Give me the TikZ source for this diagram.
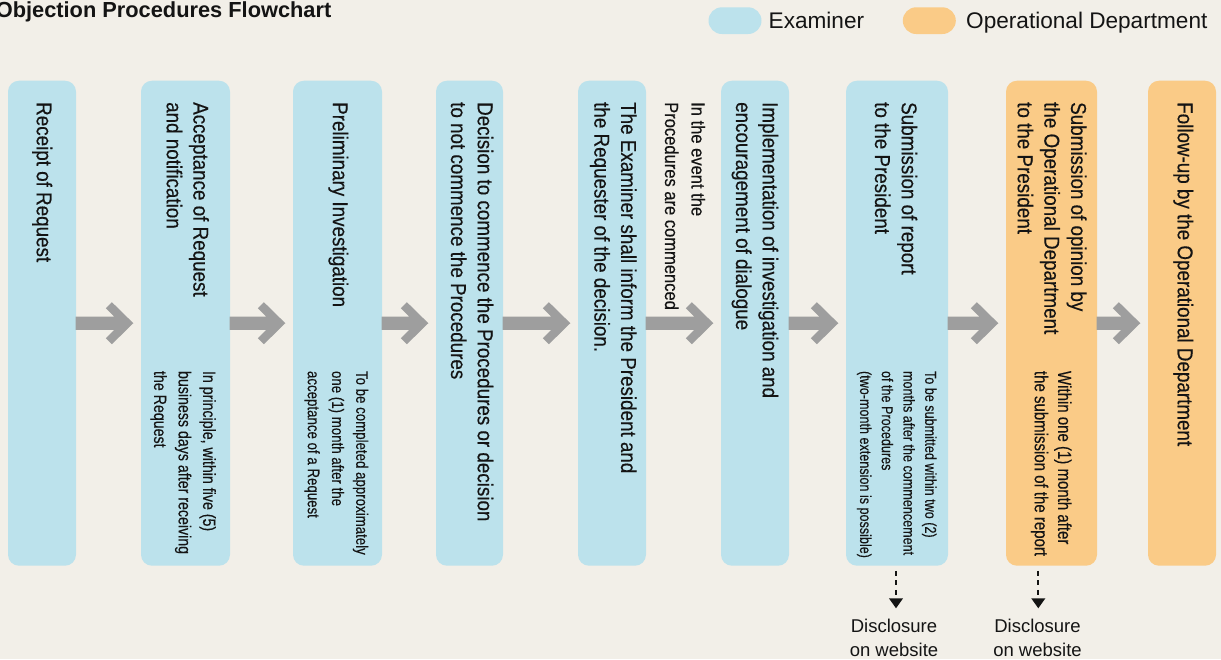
\documentclass[tikz,border=0pt]{standalone}
\usepackage{fontspec}
\setmainfont{Liberation Sans}
\newfontfamily\condfont[FakeStretch=0.875,FakeBold=0.35]{Liberation Sans}
\newfontfamily\notefont[FakeStretch=0.80,FakeBold=0.25]{Liberation Sans}
\usetikzlibrary{calc,arrows.meta}

\definecolor{bgcream}{RGB}{242,239,232}
\definecolor{examblue}{RGB}{188,226,236}
\definecolor{opsorange}{RGB}{250,203,135}
\definecolor{arrowgray}{RGB}{158,158,158}
\definecolor{ink}{RGB}{20,20,20}

% thick grey arrow with a chevron head, from the east side of #1 to just before #2
\newcommand\flowarrow[2]{%
  \coordinate (#2tip) at ($(#2.west)+(-7.5,0)$);
  \fill[arrowgray] ($(#1.east)+(-0.5,-6.65)$) -- ($(#2tip)+(-19,-6.65)$)
    -- ($(#2tip)+(-27.4,-15)$) -- ($(#2tip)+(-21.4,-21)$) -- (#2tip)
    -- ($(#2tip)+(-21.4,21)$) -- ($(#2tip)+(-27.4,15)$)
    -- ($(#2tip)+(-19,6.65)$) -- ($(#1.east)+(-0.5,6.65)$) -- cycle;}

\begin{document}
\begin{tikzpicture}[x=1pt,y=-1pt,
  stage/.style={rectangle,rounded corners=11pt,inner sep=0pt,minimum height=485pt},
  examiner/.style={stage,fill=examblue},
  opsdept/.style={stage,fill=opsorange},
  pill/.style={rectangle,rounded corners=13.35pt,inner sep=0pt,minimum width=53pt,minimum height=26.7pt},
  vtext/.style={rotate=-90,anchor=north west,inner sep=0pt,align=left,text=ink},
  maintext/.style={vtext,font=\condfont\fontsize{21.5}{26.7}\selectfont},
  disc/.style={draw=ink,line width=1.8pt,dash pattern=on 5pt off 4.5pt,-{Triangle[width=13.7pt,length=10pt]}},
  disctext/.style={anchor=north,inner sep=0pt,align=center,text=ink,font=\fontsize{18.5}{23.5}\selectfont},
  legendtext/.style={anchor=base west,inner sep=0pt,text=ink,font=\fontsize{22.6}{26}\selectfont}]

\useasboundingbox (0,0) rectangle (1221,659);
\fill[bgcream] (0,0) rectangle (1221,659);

% title and legend
\node[anchor=base west,inner sep=0pt,text=ink,font=\bfseries\fontsize{21.8}{26}\selectfont] (title) at (-4.4,17.3) {Objection Procedures Flowchart};
\node[pill,fill=examblue] (keyE) at (735,20.65) {};
\node[legendtext] (keyEtext) at (768.5,28.5) {Examiner};
\node[pill,fill=opsorange] (keyO) at (929.3,20.65) {};
\node[legendtext] (keyOtext) at (966,28.5) {Operational Department};

% stages
\node[examiner,minimum width=68pt]  (b1) at (42,323.2) {};
\node[examiner,minimum width=89pt]  (b2) at (185.5,323.2) {};
\node[examiner,minimum width=89pt]  (b3) at (337.5,323.2) {};
\node[examiner,minimum width=67pt]  (b4) at (469.5,323.2) {};
\node[examiner,minimum width=68pt]  (b5) at (612,323.2) {};
\node[examiner,minimum width=68pt]  (b6) at (755,323.2) {};
\node[examiner,minimum width=102pt] (b7) at (897,323.2) {};
\node[opsdept,minimum width=91pt]   (b8) at (1051.5,323.2) {};
\node[opsdept,minimum width=68pt]   (b9) at (1182,323.2) {};

% stage titles
\node[maintext] (t1) at (54.1,102) {\rule{0pt}{17.2pt}Receipt of Request};
\node[maintext] (t2) at (210.8,102) {\rule{0pt}{17.2pt}Acceptance of Request\\and notification};
\node[maintext] (t3) at (350.2,102) {\rule{0pt}{17.2pt}Preliminary Investigation};
\node[maintext] (t4) at (495.1,102) {\rule{0pt}{17.2pt}Decision to commence the Procedures or decision\\to not commence the Procedures};
\node[maintext] (t5) at (638.5,102) {\rule{0pt}{17.2pt}The Examiner shall inform the President and\\the Requester of the decision.};
\node[maintext] (t6) at (780.1,102) {\rule{0pt}{17.2pt}Implementation of investigation and\\encouragement of dialogue};
\node[maintext] (t7) at (919.1,102) {\rule{0pt}{17.2pt}Submission of report\\to the President};
\node[maintext] (t8) at (1088.5,102) {\rule{0pt}{17.2pt}Submission of opinion by\\the Operational Department\\to the President};
\node[maintext] (t9) at (1195.1,102) {\rule{0pt}{17.2pt}Follow-up by the Operational Department};

% time limits
\node[vtext,font=\notefont\fontsize{17.75}{24.5}\selectfont] (n2) at (217.5,370.8)
  {\rule{0pt}{14.2pt}In principle, within five (5)\\business days after receiving\\the Request};
\node[vtext,font=\notefont\fontsize{16.6}{24.2}\selectfont] (n3) at (369.7,370.8)
  {\rule{0pt}{13.28pt}To be completed approximately\\one (1) month after the\\acceptance of a Request};
\node[vtext,font=\notefont\fontsize{15.75}{21.7}\selectfont] (n7) at (938,370.8)
  {\rule{0pt}{12.6pt}To be submitted within two (2)\\months after the commencement\\of the Procedures\\(two-month extension is possible)};
\node[vtext,font=\notefont\fontsize{18.75}{23.4}\selectfont] (n8) at (1073.3,370.8)
  {\rule{0pt}{15pt}Within one (1) month after\\the submission of the report};

% condition between stages 5 and 6
\node[vtext,font=\condfont\fontsize{18.9}{26.5}\selectfont] (cond) at (706.8,102)
  {\rule{0pt}{15.1pt}In the event the\\Procedures are commenced};

% flow
\flowarrow{b1}{b2}
\flowarrow{b2}{b3}
\flowarrow{b3}{b4}
\flowarrow{b4}{b5}
\flowarrow{b5}{b6}
\flowarrow{b6}{b7}
\flowarrow{b7}{b8}
\flowarrow{b8}{b9}

% disclosure
\node[disctext] (d1) at (894,617.9) {\rule{0pt}{14.8pt}Disclosure\\on website};
\node[disctext] (d2) at (1037.5,617.9) {\rule{0pt}{14.8pt}Disclosure\\on website};
\draw[disc] ([xshift=-1pt,yshift=-5pt]b7.south) -- ([xshift=2pt,yshift=9.6pt]d1.north);
\draw[disc] ([xshift=-13.2pt,yshift=-5pt]b8.south) -- ([xshift=0.8pt,yshift=9.6pt]d2.north);
\end{tikzpicture}
\end{document}
